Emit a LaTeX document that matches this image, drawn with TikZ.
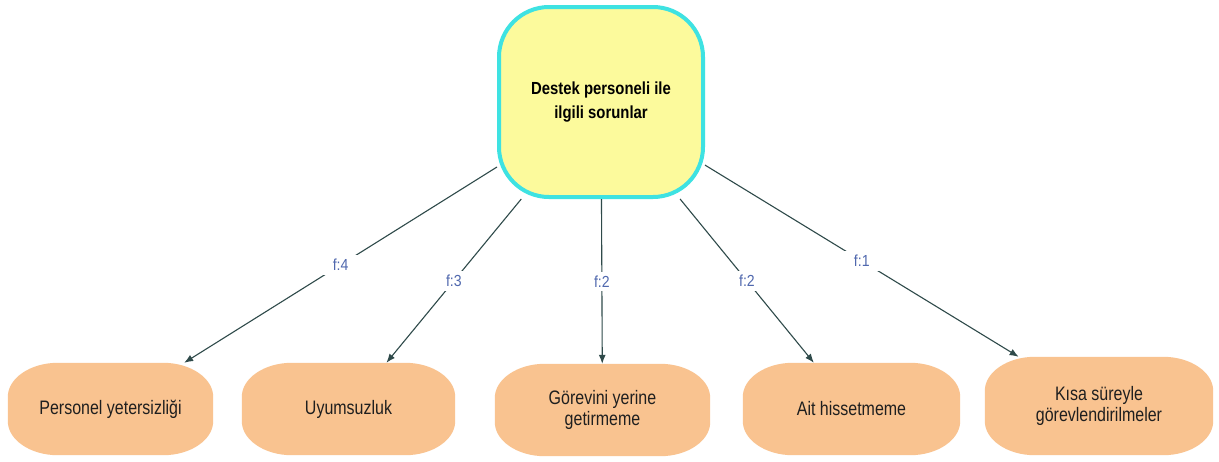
\documentclass[tikz,border=0pt]{standalone}
\usepackage{fontspec}
\setmainfont{Liberation Sans}
\newfontfamily\hubsans{Liberation Sans}[FakeStretch=0.85]
\newfontfamily\leafsans{Liberation Sans}[FakeStretch=0.82]
\newfontfamily\narrowsans{Liberation Sans}[FakeStretch=0.88]
\usetikzlibrary{arrows.meta,backgrounds,calc}

\definecolor{hubfill}{HTML}{FCFA9C}
\definecolor{hubedge}{HTML}{3EE2E2}
\definecolor{leaffill}{HTML}{F9C390}
\definecolor{linkcol}{HTML}{2F4A4A}
\definecolor{freqcol}{HTML}{5068AE}

\tikzset{
  hub/.style={draw=hubedge, line width=4pt, fill=hubfill, rounded corners=50pt,
    minimum width=204pt, minimum height=190pt, align=center, text=black,
    font=\hubsans\bfseries\fontsize{17.5}{23.5}\selectfont},
  leaf/.style={minimum height=92pt, align=center, text=black!88,
    font=\leafsans\fontsize{19.5}{21.5}\selectfont},
  link/.style={draw=linkcol, line width=1.1pt, -{Latex[length=9pt,width=7pt]}},
  freq/.style={midway, fill=white, inner xsep=10pt, inner ysep=4pt, text=freqcol,
    font=\narrowsans\fontsize{16}{18}\selectfont},
}

% soft pill outline: flat top/bottom, elliptical corners
\newcommand\leafshape[1]{%
  \fill[leaffill] ([xshift=50pt]#1.north west) -- ([xshift=-50pt]#1.north east)
    .. controls ([xshift=-22.4pt]#1.north east) and ([yshift=-15.5pt]#1.north east) .. ([yshift=-34pt]#1.north east)
    -- ([yshift=34pt]#1.south east)
    .. controls ([yshift=15.5pt]#1.south east) and ([xshift=-22.4pt]#1.south east) .. ([xshift=-50pt]#1.south east)
    -- ([xshift=50pt]#1.south west)
    .. controls ([xshift=22.4pt]#1.south west) and ([yshift=15.5pt]#1.south west) .. ([yshift=34pt]#1.south west)
    -- ([yshift=-34pt]#1.north west)
    .. controls ([yshift=-15.5pt]#1.north west) and ([xshift=22.4pt]#1.north west) .. cycle;}

\begin{document}
\begin{tikzpicture}[x=1pt,y=1pt]
  \useasboundingbox (0,0) rectangle (1219,-461);

  \node[hub] (hub) at (601,-102) {Destek personeli ile\\ilgili sorunlar};

  \node[leaf, minimum width=205pt] (l1) at (110.5,-409) {Personel yetersizliği};
  \node[leaf, minimum width=213pt] (l2) at (348.5,-409) {Uyumsuzluk};
  \node[leaf, minimum width=215pt] (l3) at (602.5,-410) {Görevini yerine\\getirmeme};
  \node[leaf, minimum width=217pt] (l4) at (851.5,-409) {Ait hissetmeme};
  \node[leaf, minimum width=228pt, minimum height=98pt] (l5) at (1099,-406) {Kısa süreyle\\görevlendirilmeler};

  \begin{scope}[on background layer]
    \fill[white] (0,0) rectangle (1219,-461);
    \leafshape{l1}
    \leafshape{l2}
    \leafshape{l3}
    \leafshape{l4}
    \leafshape{l5}
  \end{scope}

  \draw[link] (hub) -- (l1) node[freq] {f:4};
  \draw[link] (hub) -- (l2) node[freq] {f:3};
  \draw[link] (hub) -- (l3) node[freq] {f:2};
  \draw[link] (hub) -- (l4) node[freq] {f:2};
  \draw[link] (hub) -- (l5) node[freq] {f:1};
\end{tikzpicture}
\end{document}
